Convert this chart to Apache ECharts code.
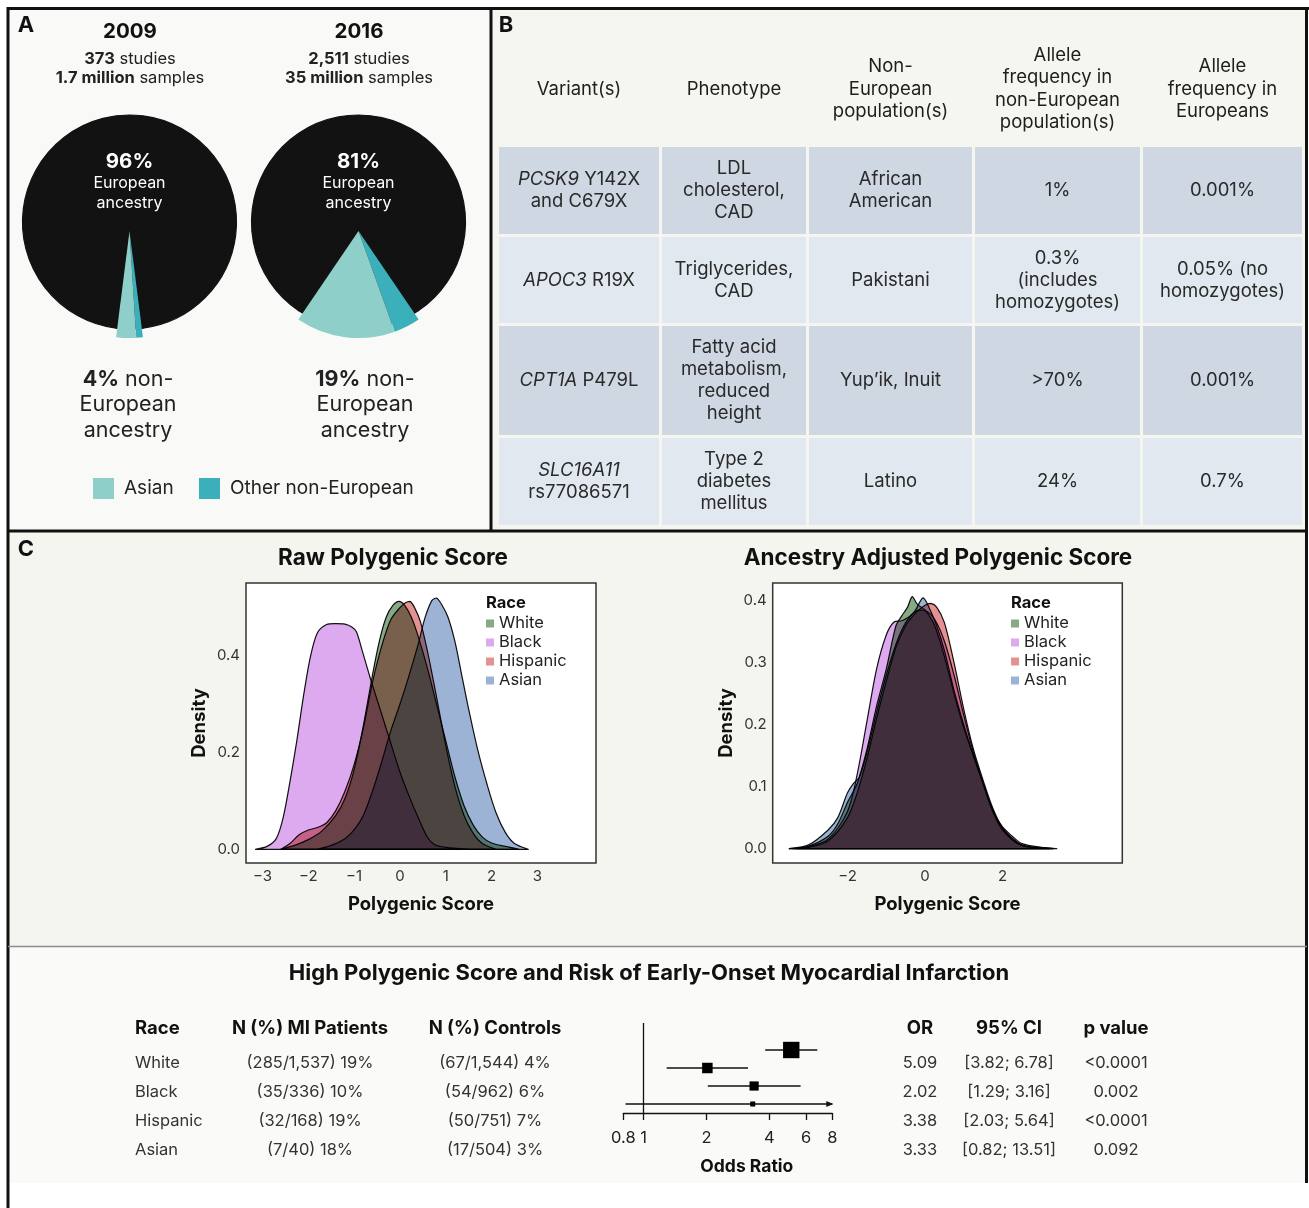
<!DOCTYPE html>
<html><head><meta charset="utf-8">
<script src="https://cdn.jsdelivr.net/npm/echarts@6/dist/echarts.min.js"></script>
<style>html,body{margin:0;padding:0;background:#fff}#c{width:1309px;height:1208px}</style>
</head><body><div id="c"></div>
<script>
// ---------------- DATA ----------------
// Panel A
const pieYears = ['2009', '2016'];
const pieStudies = ['373', '2,511'];
const pieSamples = ['1.7 million', '35 million'];
const pctEuropean = [96, 81];
const pctAsian = [3, 15];
const pctOtherNonEur = [1, 4];

// Panel B
const tblHeaders = ['Variant(s)', 'Phenotype', 'Non-\nEuropean\npopulation(s)', 'Allele\nfrequency in\nnon-European\npopulation(s)', 'Allele\nfrequency in\nEuropeans'];
const tblVariants = ['{i|PCSK9} Y142X\nand C679X', '{i|APOC3} R19X', '{i|CPT1A} P479L', '{i|SLC16A11}\nrs77086571'];
const tblPhenotypes = ['LDL\ncholesterol,\nCAD', 'Triglycerides,\nCAD', 'Fatty acid\nmetabolism,\nreduced\nheight', 'Type 2\ndiabetes\nmellitus'];
const tblPopulations = ['African\nAmerican', 'Pakistani', 'Yup\u2019ik, Inuit', 'Latino'];
const tblFreqNonEur = ['1%', '0.3%\n(includes\nhomozygotes)', '>70%', '24%'];
const tblFreqEur = ['0.001%', '0.05% (no\nhomozygotes)', '0.001%', '0.7%'];

// Panel C - densities
const races = ['White', 'Black', 'Hispanic', 'Asian'];
const raceColors = ['#87a985', '#ddaaef', '#e49191', '#9db3d5'];
const rawWhite = [[-2.6,0],[-2.3,0.008],[-2.0,0.02],[-1.7,0.038],[-1.4,0.07],[-1.2,0.105],[-1.0,0.165],[-0.8,0.255],[-0.6,0.36],[-0.45,0.43],[-0.3,0.48],[-0.15,0.505],[-0.02,0.513],[0.1,0.505],[0.25,0.48],[0.4,0.44],[0.6,0.375],[0.8,0.3],[1.0,0.225],[1.2,0.15],[1.4,0.09],[1.6,0.05],[1.8,0.025],[2.0,0.013],[2.3,0.006],[2.6,0]];
const rawBlack = [[-3.15,0],[-2.9,0.006],[-2.7,0.022],[-2.55,0.065],[-2.4,0.14],[-2.25,0.225],[-2.1,0.32],[-1.95,0.4],[-1.8,0.448],[-1.6,0.465],[-1.4,0.467],[-1.2,0.466],[-1.05,0.46],[-0.95,0.45],[-0.82,0.41],[-0.65,0.355],[-0.45,0.295],[-0.25,0.235],[0.0,0.16],[0.2,0.11],[0.4,0.065],[0.6,0.025],[0.75,0.01],[1.0,0.004],[1.5,0]];
const rawHispanic = [[-2.6,0],[-2.4,0.012],[-2.2,0.03],[-2.0,0.04],[-1.8,0.045],[-1.6,0.055],[-1.4,0.08],[-1.2,0.12],[-1.0,0.175],[-0.8,0.25],[-0.6,0.345],[-0.4,0.42],[-0.2,0.475],[0.0,0.5],[0.12,0.51],[0.22,0.513],[0.32,0.5],[0.45,0.47],[0.6,0.41],[0.8,0.315],[1.0,0.215],[1.2,0.13],[1.4,0.07],[1.6,0.033],[1.8,0.012],[2.1,0]];
const rawAsian = [[-1.8,0],[-1.5,0.008],[-1.2,0.022],[-1.0,0.04],[-0.8,0.07],[-0.6,0.12],[-0.4,0.18],[-0.2,0.245],[0.0,0.3],[0.2,0.36],[0.4,0.425],[0.55,0.48],[0.7,0.515],[0.8,0.52],[0.92,0.505],[1.05,0.48],[1.2,0.43],[1.35,0.36],[1.5,0.29],[1.7,0.205],[1.9,0.135],[2.1,0.075],[2.3,0.035],[2.5,0.012],[2.8,0]];
const adjWhite = [[-3.4,0],[-3.0,0.004],[-2.5,0.02],[-2.25,0.04],[-2.0,0.075],[-1.75,0.105],[-1.5,0.16],[-1.25,0.23],[-1.0,0.29],[-0.75,0.36],[-0.6,0.376],[-0.45,0.39],[-0.33,0.407],[-0.2,0.395],[0.0,0.385],[0.25,0.36],[0.5,0.31],[0.75,0.25],[1.0,0.195],[1.25,0.15],[1.5,0.105],[1.75,0.062],[2.0,0.033],[2.5,0.006],[3.0,0.001],[3.3,0]];
const adjBlack = [[-3.5,0],[-3.0,0.003],[-2.5,0.015],[-2.0,0.06],[-1.75,0.12],[-1.5,0.205],[-1.25,0.29],[-1.0,0.345],[-0.8,0.366],[-0.6,0.368],[-0.4,0.375],[-0.2,0.385],[0.0,0.385],[0.25,0.37],[0.5,0.335],[0.75,0.28],[1.0,0.215],[1.25,0.155],[1.5,0.105],[1.75,0.06],[2.0,0.035],[2.25,0.02],[2.5,0.008],[3.0,0.002],[3.4,0]];
const adjHispanic = [[-3.3,0],[-3.0,0.002],[-2.5,0.012],[-2.0,0.05],[-1.75,0.09],[-1.5,0.145],[-1.25,0.21],[-1.0,0.27],[-0.75,0.325],[-0.5,0.36],[-0.25,0.38],[0.0,0.393],[0.15,0.396],[0.3,0.39],[0.5,0.365],[0.75,0.3],[1.0,0.225],[1.25,0.16],[1.5,0.11],[1.75,0.065],[2.0,0.033],[2.25,0.014],[2.5,0.005],[3.0,0.001],[3.2,0]];
const adjAsian = [[-3.5,0],[-3.0,0.006],[-2.5,0.03],[-2.25,0.05],[-2.0,0.09],[-1.85,0.105],[-1.7,0.115],[-1.5,0.155],[-1.25,0.22],[-1.0,0.28],[-0.75,0.33],[-0.5,0.365],[-0.25,0.385],[-0.05,0.405],[0.1,0.39],[0.3,0.36],[0.5,0.32],[0.75,0.255],[1.0,0.2],[1.25,0.15],[1.5,0.105],[1.75,0.06],[2.0,0.03],[2.5,0.005],[3.0,0.001],[3.3,0]];
const rawXTicks = [-3, -2, -1, 0, 1, 2, 3];
const rawYTicks = [0, 0.2, 0.4];
const adjXTicks = [-2, 0, 2];
const adjYTicks = [0, 0.1, 0.2, 0.3, 0.4];

// Panel C - forest
const miPatients = ['(285/1,537) 19%', '(35/336) 10%', '(32/168) 19%', '(7/40) 18%'];
const controls = ['(67/1,544) 4%', '(54/962) 6%', '(50/751) 7%', '(17/504) 3%'];
const orValues = [5.09, 2.02, 3.38, 3.33];
const ciLow = [3.82, 1.29, 2.03, 0.82];
const ciHigh = [6.78, 3.16, 5.64, 13.51];
const pValues = ['<0.0001', '0.002', '<0.0001', '0.092'];
const orTicks = [0.8, 1, 2, 4, 6, 8];

// ---------------- DRAWING ----------------
const FONT = 'Inter, "Liberation Sans", Arial, sans-serif';
const chart = echarts.init(document.getElementById('c'), null, {renderer: 'canvas', width: 1309, height: 1208});
const els = [];
function rect(x, y, w, h, fill, z) {
  els.push({type: 'rect', silent: true, z: z === undefined ? -10 : z, shape: {x, y, width: w, height: h}, style: {fill}});
}
function line(x1, y1, x2, y2, stroke, w) {
  els.push({type: 'line', silent: true, z: 30, shape: {x1, y1, x2, y2}, style: {stroke, lineWidth: w}});
}
function text(x, y, str, o) {
  o = o || {};
  const size = o.size || 16, weight = o.weight || 'normal', fill = o.fill || '#222';
  const lh = o.lh || Math.round(size * 1.25);
  const align = o.align || 'center';
  const rich = {
    i: {fontStyle: 'italic', fontSize: size, fontFamily: FONT, fill, lineHeight: lh, fontWeight: weight},
    b: {fontWeight: 'bold', fontSize: size, fontFamily: FONT, fill, lineHeight: lh}
  };
  els.push({type: 'text', silent: true, z: 40, x, y, style: {
    text: str, fill, fontSize: size, fontWeight: weight, fontFamily: FONT, lineHeight: lh,
    align, verticalAlign: 'middle', textAlign: align, textVerticalAlign: 'middle', rich
  }});
}

// Backgrounds
rect(8, 8, 483, 523, '#f9f9f8');
rect(491, 8, 816, 523, '#f6f6f1');
rect(8, 531, 1299, 416, '#f5f5f0');
rect(8, 947, 1299, 236, '#fafaf9');

// Panel letters
text(26, 25, 'A', {size: 22, weight: 'bold', fill: '#111'});
text(506, 25, 'B', {size: 22, weight: 'bold', fill: '#111'});
text(26, 549, 'C', {size: 22, weight: 'bold', fill: '#111'});

// Panel A texts
const pieCenters = [[129.5, 222], [358.5, 222]];
const pieTextX = [130, 359];
const belowX = [128, 365];
pieYears.forEach((yr, i) => {
  text(pieTextX[i], 32, yr, {size: 20.5, weight: 'bold', fill: '#111'});
  text(pieTextX[i], 59, '{b|' + pieStudies[i] + '} studies', {size: 16.5});
  text(pieTextX[i], 78, '{b|' + pieSamples[i] + '} samples', {size: 16.5});
  text(pieCenters[i][0], 162, pctEuropean[i] + '%', {size: 20.5, weight: 'bold', fill: '#fff'});
  text(pieCenters[i][0], 193, 'European\nancestry', {size: 16, fill: '#fff', lh: 19.5});
  text(belowX[i], 405, '{b|' + (pctAsian[i] + pctOtherNonEur[i]) + '%} non-\nEuropean\nancestry', {size: 21.5, lh: 25.5, fill: '#222'});
});
// pie legend
rect(93, 478, 21, 21, '#8ecfc9', 5);
text(124, 488, 'Asian', {size: 19, align: 'left'});
rect(199, 478, 21, 21, '#3cb0ba', 5);
text(230, 488, 'Other non-European', {size: 19, align: 'left'});

// Panel B table
const colEdges = [[499, 659], [662, 806], [809, 972], [975, 1140], [1143, 1302]];
const rowEdges = [[147, 234], [237, 323], [326, 435], [438, 525]];
const rowFill = ['#cfd7e3', '#e2e8ef', '#cfd7e3', '#e2e8ef'];
rowEdges.forEach((r, ri) => colEdges.forEach(c => rect(c[0], r[0], c[1] - c[0], r[1] - r[0], rowFill[ri], -5)));
const colCx = colEdges.map(c => (c[0] + c[1]) / 2);
const headerY = 89;
tblHeaders.forEach((h, ci) => text(colCx[ci], headerY, h, {size: 18.5, lh: 22.5, fill: '#1e1e1e'}));
const tblCols = [tblVariants, tblPhenotypes, tblPopulations, tblFreqNonEur, tblFreqEur];
rowEdges.forEach((r, ri) => {
  const cy = (r[0] + r[1]) / 2;
  tblCols.forEach((col, ci) => text(colCx[ci], cy, col[ri], {size: 18.5, lh: 22, fill: '#2a2a2a'}));
});

// Panel C titles
text(393, 558, 'Raw Polygenic Score', {size: 22.5, weight: 'bold', fill: '#111'});
text(938, 558, 'Ancestry Adjusted Polygenic Score', {size: 22.5, weight: 'bold', fill: '#111'});
text(486, 603, 'Race', {size: 16.5, weight: 'bold', align: 'left', fill: '#111'});
text(1011, 603, 'Race', {size: 16.5, weight: 'bold', align: 'left', fill: '#111'});

// Forest section texts
text(649, 973, 'High Polygenic Score and Risk of Early-Onset Myocardial Infarction', {size: 22, weight: 'bold', fill: '#111'});
const fHeadY = 1028;
const hOpt = {size: 18.5, weight: 'bold', fill: '#111'};
text(135, fHeadY, 'Race', Object.assign({align: 'left'}, hOpt));
text(310, fHeadY, 'N (%) MI Patients', hOpt);
text(495, fHeadY, 'N (%) Controls', hOpt);
text(920, fHeadY, 'OR', hOpt);
text(1009, fHeadY, '95% CI', hOpt);
text(1116, fHeadY, 'p value', hOpt);
const fRowY = [1063, 1092, 1121, 1150];
races.forEach((r, i) => {
  const y = fRowY[i];
  const o = {size: 16.5, fill: '#333'};
  text(135, y, r, Object.assign({align: 'left'}, o));
  text(310, y, miPatients[i], o);
  text(495, y, controls[i], o);
  text(920, y, orValues[i].toFixed(2), o);
  text(1009, y, '[' + ciLow[i].toFixed(2) + '; ' + ciHigh[i].toFixed(2) + ']', o);
  text(1116, y, pValues[i], o);
});

// Borders
line(8, 8.5, 1309, 8.5, '#111', 3);
line(8, 7, 8, 1208, '#111', 3);
line(1306.5, 7, 1306.5, 1183, '#111', 3);
line(491, 8, 491, 531, '#111', 3);
line(8, 531, 1307, 531, '#111', 3);
line(8, 946.5, 1307, 946.5, '#8c8c8c', 1.5);

// ---------- series ----------
const series = [];
// pies
pieYears.forEach((yr, i) => {
  const start = -90 + (pctAsian[i] + pctOtherNonEur[i]) * 1.8;
  const base = [
    {name: 'Other non-European', value: pctOtherNonEur[i]},
    {name: 'Asian', value: pctAsian[i]},
    {name: 'European', value: pctEuropean[i]}
  ];
  const common = {type: 'pie', silent: true, radius: 107, startAngle: start, clockwise: true,
    label: {show: false}, labelLine: {show: false}, emphasis: {disabled: true}, legendHoverLink: false,
    avoidLabelOverlap: false, animation: false};
  series.push(Object.assign({}, common, {name: 'pieBase' + yr, center: pieCenters[i], z: 2,
    data: base.map(d => ({name: d.name, value: d.value, itemStyle: {color: '#121212', borderWidth: 1.2, borderColor: '#121212'}}))}));
  const cols = ['#3cb0ba', '#8ecfc9', 'rgba(0,0,0,0)'];
  series.push(Object.assign({}, common, {name: 'pieTop' + yr, center: [pieCenters[i][0], pieCenters[i][1] + 9], z: 3,
    data: base.map((d, k) => ({name: d.name, value: d.value, itemStyle: {color: cols[k], borderWidth: 0}}))}));
});

function densitySeries(name, pts, color, idx) {
  return {
    type: 'custom', name, xAxisIndex: idx, yAxisIndex: idx, data: pts, silent: true, z: 3,
    blendMode: 'multiply',
    itemStyle: {color}, encode: {x: 0, y: 1},
    renderItem(params, api) {
      if (params.dataIndex !== 0) return null;
      const points = pts.map(p => api.coord(p));
      return {type: 'polygon', shape: {points, smooth: 0.3, smoothConstraint: [points[0], points[0]]},
        style: {fill: color, stroke: '#111', lineWidth: 1.2}};
    }
  };
}
const rawSets = [rawWhite, rawBlack, rawHispanic, rawAsian];
const adjSets = [adjWhite, adjBlack, adjHispanic, adjAsian];
races.forEach((r, i) => series.push(densitySeries(r, rawSets[i], raceColors[i], 0)));
races.forEach((r, i) => series.push(densitySeries(r, adjSets[i], raceColors[i], 1)));

// forest
series.push({
  type: 'custom', name: 'forest', xAxisIndex: 2, yAxisIndex: 2, silent: true, z: 5,
  data: races.map((r, i) => [r, orValues[i], ciLow[i], ciHigh[i]]),
  encode: {x: 1, y: 0},
  renderItem(params, api) {
    const y = api.value(0);
    const or = api.value(1), lo = api.value(2), hi = api.value(3);
    const xmin = orTicks[0], xmax = orTicks[orTicks.length - 1];
    const p = api.coord([or, y]);
    const pl = api.coord([Math.max(lo, xmin), y]);
    const ph = api.coord([Math.min(hi, xmax), y]);
    const se = (Math.log(hi) - Math.log(lo)) / 3.92;
    const s = Math.max(5, 2.4 / se);
    const children = [
      {type: 'line', shape: {x1: pl[0], y1: pl[1], x2: ph[0], y2: ph[1]}, style: {stroke: '#111', lineWidth: 1.4}},
      {type: 'rect', shape: {x: p[0] - s / 2, y: p[1] - s / 2, width: s, height: s}, style: {fill: '#000'}}
    ];
    if (hi > xmax) children.push({type: 'polygon', shape: {points: [[ph[0] + 1, ph[1]], [ph[0] - 6, ph[1] - 3], [ph[0] - 6, ph[1] + 3]]}, style: {fill: '#111'}});
    return {type: 'group', children};
  },
  markLine: {silent: true, symbol: 'none', label: {show: false}, animation: false,
    lineStyle: {color: '#111', width: 1.3, type: 'solid'}, data: [{xAxis: 1}]}
});

const fmtMinus = v => (v < 0 ? '\u2212' + (-v) : String(v));
const axisCommon = {axisLine: {show: false}, axisTick: {show: false}, splitLine: {show: false}};
const nameStyle = {fontWeight: 'bold', fontSize: 18.5, color: '#111', fontFamily: FONT};
const option = {
  animation: false,
  backgroundColor: '#ffffff',
  textStyle: {fontFamily: FONT},
  grid: [
    {left: 246, top: 583, width: 350, height: 280, show: true, backgroundColor: '#ffffff', borderColor: '#333', borderWidth: 1.5},
    {left: 772.7, top: 583, width: 349.6, height: 280, show: true, backgroundColor: '#ffffff', borderColor: '#333', borderWidth: 1.5},
    {left: 623.3, top: 1023, width: 209, height: 90, show: false}
  ],
  xAxis: [
    Object.assign({gridIndex: 0, type: 'value', min: -3.36, max: 4.28,
      axisLabel: {customValues: rawXTicks, formatter: fmtMinus, fontSize: 15, color: '#333', margin: 6},
      name: 'Polygenic Score', nameLocation: 'middle', nameGap: 32, nameTextStyle: nameStyle}, axisCommon),
    Object.assign({gridIndex: 1, type: 'value', min: -3.93, max: 5.09,
      axisLabel: {customValues: adjXTicks, formatter: fmtMinus, fontSize: 15, color: '#333', margin: 6},
      name: 'Polygenic Score', nameLocation: 'middle', nameGap: 32, nameTextStyle: nameStyle}, axisCommon),
    {gridIndex: 2, type: 'log', logBase: 2, min: orTicks[0], max: orTicks[orTicks.length - 1],
      axisLine: {show: true, onZero: false, lineStyle: {color: '#111', width: 1.3}},
      axisTick: {show: true, customValues: orTicks, length: 7, lineStyle: {color: '#111', width: 1.3}},
      minorTick: {show: false}, splitLine: {show: false},
      axisLabel: {customValues: orTicks, fontSize: 16.5, color: '#222', margin: 17, formatter: v => String(+(+v).toFixed(2))},
      name: 'Odds Ratio', nameLocation: 'middle', nameGap: 45,
      nameTextStyle: {fontWeight: 'bold', fontSize: 17.5, color: '#111', fontFamily: FONT, padding: [0, 0, 0, 38]}}
  ],
  yAxis: [
    Object.assign({gridIndex: 0, type: 'value', min: -0.0284, max: 0.551,
      axisLabel: {customValues: rawYTicks, formatter: v => v.toFixed(1), fontSize: 15, color: '#333', margin: 6},
      name: 'Density', nameLocation: 'middle', nameGap: 37, nameRotate: 90, nameTextStyle: nameStyle}, axisCommon),
    Object.assign({gridIndex: 1, type: 'value', min: -0.0233, max: 0.429,
      axisLabel: {customValues: adjYTicks, formatter: v => v.toFixed(1), fontSize: 15, color: '#333', margin: 6},
      name: 'Density', nameLocation: 'middle', nameGap: 37, nameRotate: 90, nameTextStyle: nameStyle}, axisCommon),
    {gridIndex: 2, type: 'category', data: races, inverse: true, min: -1, show: false}
  ],
  legend: [
    {data: races, left: 486, top: 615, orient: 'vertical', icon: 'rect', itemWidth: 8, itemHeight: 8, itemGap: 2,
      padding: 0, selectedMode: false, textStyle: {fontSize: 16.5, color: '#222', lineHeight: 17, fontFamily: FONT}},
    {data: races, left: 1011, top: 615, orient: 'vertical', icon: 'rect', itemWidth: 8, itemHeight: 8, itemGap: 2,
      padding: 0, selectedMode: false, textStyle: {fontSize: 16.5, color: '#222', lineHeight: 17, fontFamily: FONT}}
  ],
  series,
  graphic: {elements: els}
};
chart.setOption(option);
</script></body></html>
